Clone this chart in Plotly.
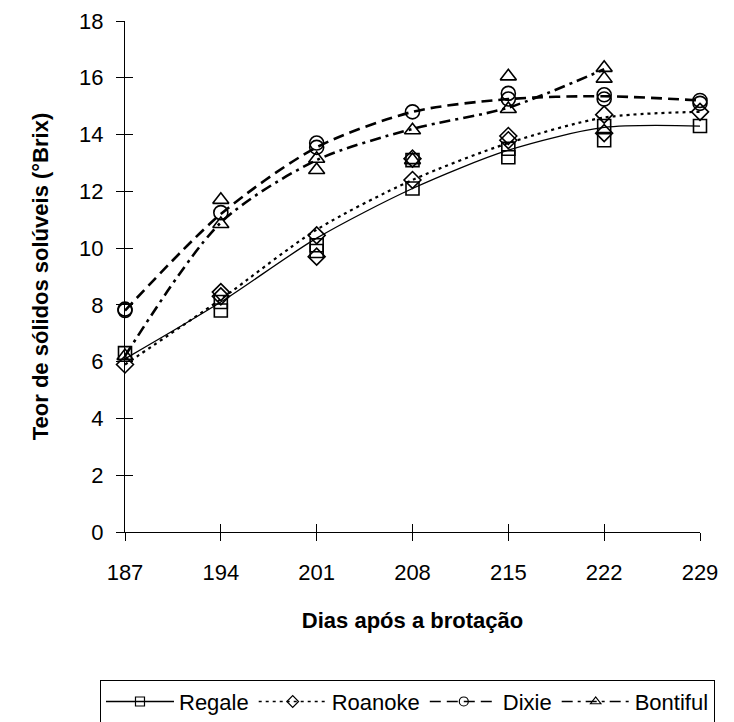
import plotly.graph_objects as go

# Days after sprouting
days = [187, 194, 201, 208, 215, 222, 229]
days_bontiful = [187, 194, 201, 208, 215, 222]
x_ticks = [187, 194, 201, 208, 215, 222, 229]
y_ticks = [0, 2, 4, 6, 8, 10, 12, 14, 16, 18]

# Fitted curves (°Brix)
fit_regale = [6.1, 8.1, 10.35, 12.1, 13.45, 14.25, 14.3]
fit_roanoke = [5.9, 8.2, 10.65, 12.4, 13.7, 14.6, 14.8]
fit_dixie = [7.8, 11.2, 13.55, 14.8, 15.25, 15.35, 15.2]
fit_bontiful = [6.2, 10.9, 13.1, 14.2, 14.95, 16.3]

# Observed replicates
obs_regale_x = [187, 194, 194, 201, 201, 208, 208, 215, 215, 222, 222, 229]
obs_regale_y = [6.3, 7.8, 8.1, 10.1, 9.9, 12.1, 13.1, 13.5, 13.2, 14.3, 13.8, 14.3]
obs_roanoke_x = [187, 194, 194, 201, 201, 208, 208, 215, 215, 222, 222, 229]
obs_roanoke_y = [5.9, 8.3, 8.45, 10.45, 9.7, 12.4, 13.15, 13.95, 13.8, 14.7, 14.05, 14.8]
obs_dixie_x = [187, 187, 194, 201, 201, 208, 215, 215, 222, 222, 229, 229]
obs_dixie_y = [7.8, 7.85, 11.25, 13.7, 13.55, 14.8, 15.45, 15.25, 15.4, 15.25, 15.2, 15.1]
obs_bontiful_x = [187, 194, 194, 201, 201, 208, 208, 215, 215, 222, 222]
obs_bontiful_y = [6.2, 11.7, 10.85, 13.15, 12.75, 14.15, 13.1, 16.05, 14.9, 16.35, 15.97]

names = ["Regale", "Roanoke", "Dixie", "Bontiful"]
fits = [(days, fit_regale), (days, fit_roanoke), (days, fit_dixie), (days_bontiful, fit_bontiful)]
obs = [(obs_regale_x, obs_regale_y), (obs_roanoke_x, obs_roanoke_y),
       (obs_dixie_x, obs_dixie_y), (obs_bontiful_x, obs_bontiful_y)]
dashes = ["solid", "3px,4px", "11px,6px", "11px,5px,3px,5px"]
widths = [1.3, 2.2, 2.6, 2.6]
symbols = ["square-open", "diamond-open", "circle-open", "triangle-up-open"]
sizes = [13, 13, 14, 14]

FONT = "Arial, Liberation Sans, sans-serif"
FS = 22
fig = go.Figure()

for i in range(4):
    fx, fy = fits[i]
    fig.add_trace(go.Scatter(x=fx, y=fy, mode="lines", showlegend=False,
                             line=dict(color="black", width=widths[i], dash=dashes[i],
                                       shape="spline", smoothing=0.8),
                             hoverinfo="skip", cliponaxis=False))
for i in range(4):
    ox, oy = obs[i]
    fig.add_trace(go.Scatter(x=ox, y=oy, mode="markers", showlegend=False,
                             marker=dict(symbol=symbols[i], size=sizes[i], color="black",
                                         line=dict(width=1.6, color="black")),
                             cliponaxis=False))
for i in range(4):
    fig.add_trace(go.Scatter(x=[None], y=[None], mode="lines+markers", name=names[i],
                             line=dict(color="black", width=min(widths[i], 1.6), dash=dashes[i]),
                             marker=dict(symbol=symbols[i], size=9, color="black",
                                         line=dict(width=1.2, color="black"))))

# overlay axes for the inside half of the crossing ticks
fig.add_trace(go.Scatter(x=[None], y=[None], xaxis="x2", yaxis="y2", showlegend=False))

tick_common = dict(showgrid=False, zeroline=False, tickcolor="black", tickwidth=1, ticklen=8)

# page body has an 8px margin, so the figure is laid out 8px up/left of the target positions
fig.update_layout(
    width=734, height=722,
    margin=dict(l=117, r=42, t=13, b=198, autoexpand=False),
    paper_bgcolor="white", plot_bgcolor="white",
    font=dict(family=FONT, size=FS, color="black"),
    xaxis=dict(range=[187, 229], tickvals=x_ticks, ticks="outside", showline=True,
               linecolor="black", linewidth=1, ticklabelstandoff=13, automargin=False,
               ticklabeloverflow="allow",
               title=dict(text="<b>Dias após a brotação</b>", font=dict(size=FS), standoff=28),
               **tick_common),
    yaxis=dict(range=[0, 18], tickvals=y_ticks, ticks="outside", showline=True,
               linecolor="black", linewidth=1, ticklabelstandoff=8, automargin=False,
               ticklabeloverflow="allow",
               title=dict(text="<b>Teor de sólidos solúveis (°Brix)</b>", font=dict(size=FS), standoff=24),
               **tick_common),
    xaxis2=dict(range=[187, 229], tickvals=x_ticks, ticks="inside", overlaying="x",
                showticklabels=False, showline=False, anchor="y2", automargin=False, **tick_common),
    yaxis2=dict(range=[0, 18], tickvals=y_ticks, ticks="inside", overlaying="y",
                showticklabels=False, showline=False, anchor="x2", automargin=False, **tick_common),
    legend=dict(orientation="h", x=-0.0435, y=-0.289, xanchor="left", yanchor="top",
                bordercolor="black", borderwidth=1, font=dict(size=FS, family=FONT),
                itemwidth=68, traceorder="normal", tracegroupgap=0),
    showlegend=True,
)

fig.write_html("out.html")
